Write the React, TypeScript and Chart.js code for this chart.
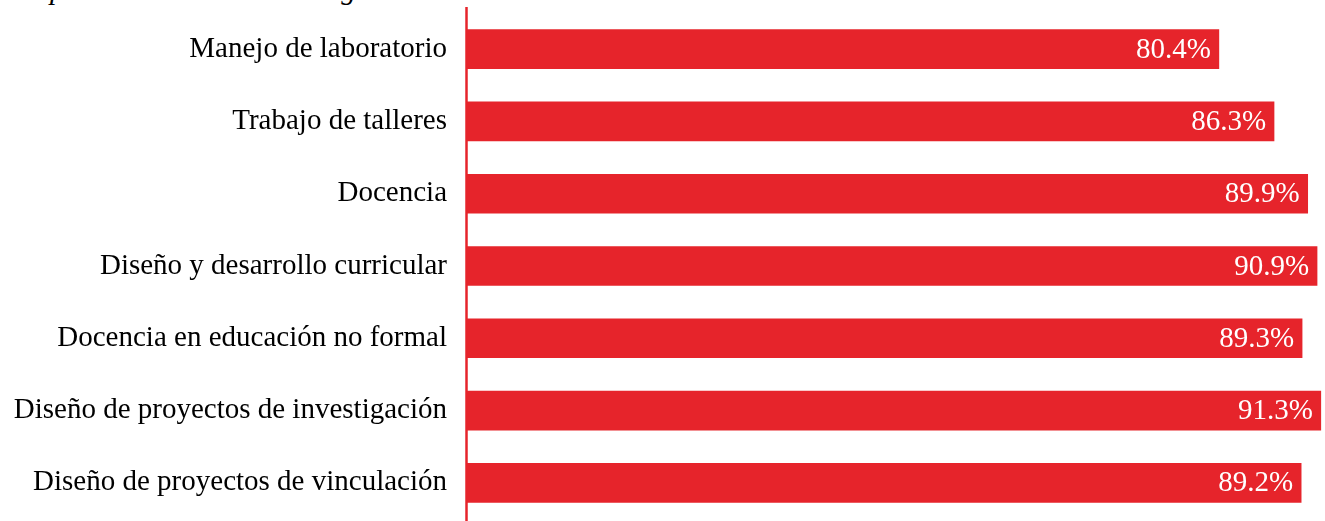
import React, { useEffect, useRef } from "react";
import { Chart, registerables } from "chart.js";

Chart.register(...registerables);

const categories = [
  "Manejo de laboratorio",
  "Trabajo de talleres",
  "Docencia",
  "Diseño y desarrollo curricular",
  "Docencia en educación no formal",
  "Diseño de proyectos de investigación",
  "Diseño de proyectos de vinculación",
];
const values = [80.4, 86.3, 89.9, 90.9, 89.3, 91.3, 89.2];
const valueLabels = ["80.4%", "86.3%", "89.9%", "90.9%", "89.3%", "91.3%", "89.2%"];
const titleText = "Opinión sobre el nivel de egresados";

const RED = "#E6242B";
const FONT = "'Liberation Serif', 'Times New Roman', Times, serif";
const FONT_SIZE = 29;

const valueLabelPlugin = {
  id: "valueLabels",
  afterDatasetsDraw(chart: any) {
    const ctx = chart.ctx;
    const meta = chart.getDatasetMeta(0);
    ctx.save();
    ctx.fillStyle = "#ffffff";
    ctx.font = `${FONT_SIZE}px ${FONT}`;
    ctx.textAlign = "right";
    ctx.textBaseline = "middle";
    meta.data.forEach((bar: any, i: number) => {
      ctx.fillText(valueLabels[i], bar.x - 8, bar.y + 1);
    });
    ctx.restore();
  },
};

const axisLinePlugin = {
  id: "axisLine",
  afterDatasetsDraw(chart: any) {
    const ctx = chart.ctx;
    const x = chart.scales.x.getPixelForValue(0);
    ctx.save();
    ctx.strokeStyle = RED;
    ctx.lineWidth = 2.5;
    ctx.beginPath();
    ctx.moveTo(x - 0.5, 7);
    ctx.lineTo(x - 0.5, chart.height);
    ctx.stroke();
    ctx.restore();
  },
};

export default function App() {
  const ref = useRef<HTMLCanvasElement | null>(null);
  useEffect(() => {
    document.body.style.margin = "0";
    document.body.style.overflow = "hidden";
    let chart: any = null;
    let cancelled = false;
    const build = () => {
      if (cancelled || !ref.current) return;
      chart = new Chart(ref.current as HTMLCanvasElement, {
        type: "bar",
        data: {
          labels: categories,
          datasets: [
            {
              data: values,
              backgroundColor: RED,
              borderWidth: 0,
              barThickness: 39,
            },
          ],
        },
        options: {
          indexAxis: "y",
          animation: false,
          responsive: false,
          maintainAspectRatio: false,
          layout: { padding: { top: 13, bottom: 2, left: 0, right: 0 } },
          plugins: {
            legend: { display: false },
            tooltip: { enabled: false },
            title: { display: false },
          },
          scales: {
            x: {
              min: 0,
              max: 91.75,
              display: false,
              grid: { display: false },
            },
            y: {
              grid: { display: false, drawTicks: false },
              border: { display: false },
              ticks: {
                color: "#000000",
                font: { family: FONT, size: FONT_SIZE },
                padding: 20,
              },
              afterFit(scale: any) {
                scale.width = 467;
                scale.paddingTop = 0;
                scale.paddingBottom = 0;
              },
            },
          },
        },
        plugins: [valueLabelPlugin, axisLinePlugin],
      });
    };
    const fontsApi: any = (document as any).fonts;
    if (fontsApi && fontsApi.load) {
      Promise.all([
        fontsApi.load(`${FONT_SIZE}px "Liberation Serif"`),
        fontsApi.load(`italic ${FONT_SIZE}px "Liberation Serif"`),
      ]).then(build, build);
    } else {
      build();
    }
    return () => {
      cancelled = true;
      if (chart) chart.destroy();
    };
  }, []);

  return (
    <div style={{ position: "relative", width: 1325, height: 521, overflow: "hidden", background: "#fff" }}>
      <div
        style={{
          position: "absolute",
          left: 29,
          top: -25,
          fontFamily: FONT,
          fontStyle: "italic",
          fontSize: FONT_SIZE,
          lineHeight: `${FONT_SIZE}px`,
          whiteSpace: "nowrap",
          color: "#000",
        }}
      >
        {titleText}
      </div>
      <canvas ref={ref} width={1325} height={521} style={{ position: "absolute", left: 0, top: 0, width: 1325, height: 521 }} />
    </div>
  );
}
